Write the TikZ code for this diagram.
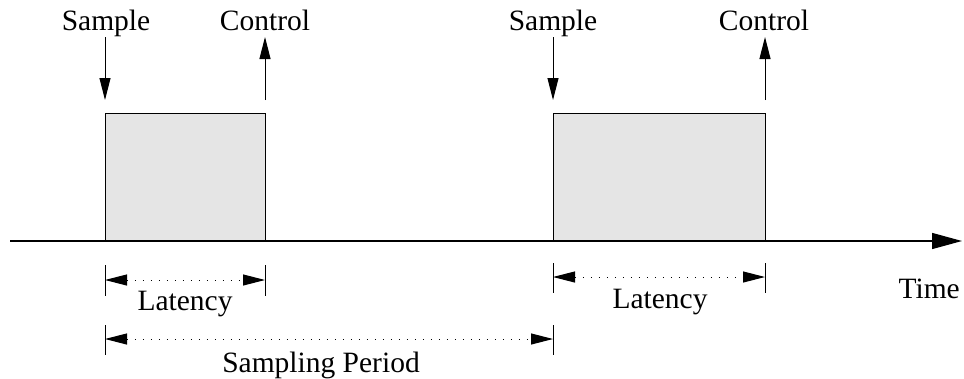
\documentclass[tikz,border=0pt]{standalone}
\usepackage{fontspec}
\setmainfont{Liberation Serif}
\usetikzlibrary{arrows.meta,positioning}

\begin{document}
\begin{tikzpicture}[x=1pt,y=-1pt,
block/.style={draw,line width=1pt,fill=black!10,minimum width=#1,minimum height=127pt,inner sep=0pt,anchor=south west},
lbl/.style={font=\fontsize{29.5}{34}\selectfont,inner sep=0pt,anchor=base},
event/.style={-{Triangle[length=22pt,width=11pt]},line width=1pt},
dim/.style={{Triangle[length=22pt,width=11pt]}-{Triangle[length=22pt,width=11pt]},line width=1pt,dash pattern=on 1.3pt off 6.7pt},
tick/.style={line width=1pt}
]
\useasboundingbox (0,0) rectangle (964,378);

% time axis
\coordinate (t0) at (10,241);
\coordinate (t1) at (962,241);
\draw[line width=1.4pt,-{Triangle[length=30pt,width=16pt]}] (t0) -- (t1);
\node[lbl,anchor=base east] (time) at (960,298) {Time};

% processing blocks
\node[block=160pt] (box1) at (105,241) {};
\node[block=212pt] (box2) at (553,241) {};

% sample / control events
\node[lbl] (smp1) at (106,30) {Sample};
\node[lbl] (ctl1) at (265,30) {Control};
\node[lbl] (smp2) at (553,30) {Sample};
\node[lbl] (ctl2) at (764,30) {Control};
\coordinate (s1a) at (105,37);  \coordinate (s1b) at (105,100);
\coordinate (c1a) at (265,100); \coordinate (c1b) at (265,37);
\coordinate (s2a) at (553,37);  \coordinate (s2b) at (553,100);
\coordinate (c2a) at (765,100); \coordinate (c2b) at (765,37);
\draw[event] (s1a) -- (s1b);
\draw[event] (c1a) -- (c1b);
\draw[event] (s2a) -- (s2b);
\draw[event] (c2a) -- (c2b);

% latency of first block
\draw[tick] (105,265) -- (105,296);
\draw[tick] (265,265) -- (265,296);
\coordinate (l1a) at (105,280); \coordinate (l1b) at (265,280);
\draw[dim] (l1a) -- (l1b);
\node[lbl] (lat1) at (185,310) {Latency};

% latency of second block
\draw[tick] (553,263) -- (553,293);
\draw[tick] (765,263) -- (765,293);
\coordinate (l2a) at (553,277); \coordinate (l2b) at (765,277);
\draw[dim] (l2a) -- (l2b);
\node[lbl] (lat2) at (660,308) {Latency};

% sampling period
\draw[tick] (105,325) -- (105,355);
\draw[tick] (553,325) -- (553,355);
\coordinate (p1) at (105,339); \coordinate (p2) at (553,339);
\draw[dim] (p1) -- (p2);
\node[lbl] (per) at (321,372) {Sampling Period};
\end{tikzpicture}
\end{document}
